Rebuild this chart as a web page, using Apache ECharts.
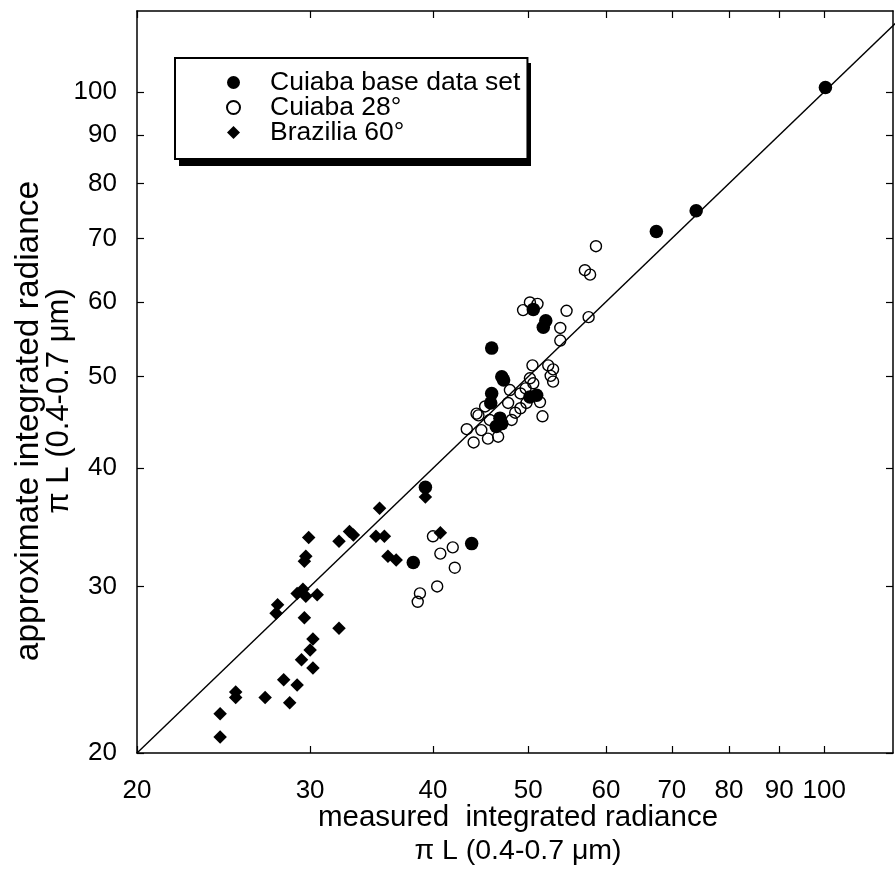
<!DOCTYPE html>
<html>
<head>
<meta charset="utf-8">
<script src="https://cdn.jsdelivr.net/npm/echarts@6/dist/echarts.min.js"></script>
<style>
  html, body { margin: 0; padding: 0; background: #fff; }
  #chart { width: 895px; height: 876px; }
</style>
</head>
<body>
<div id="chart"></div>
<script>
// Radiance comparison: measured (x) vs approximate (y), log-log axes.
const tickValues = [20, 30, 40, 50, 60, 70, 80, 90, 100];
const xRange = [20, 117.5];
const yRange = [20, 121.8];

// Cuiaba base data set [measured, approximate]
const cuiabaBase = [
  [100.3, 101.1], [74.1, 74.9], [67.5, 71.2], [52.1, 57.3], [51.8, 56.4],
  [50.6, 58.9], [45.9, 53.6], [47.0, 50.0], [47.2, 49.6], [45.9, 48.0],
  [45.8, 46.9], [46.8, 45.2], [47.0, 44.6], [46.4, 44.3], [50.2, 47.6],
  [51.0, 47.8], [43.8, 33.3], [38.2, 31.8], [39.3, 38.2]
];

// Cuiaba 28°
const cuiaba28 = [
  [58.6, 68.7], [57.1, 64.8], [57.8, 64.1], [54.7, 58.7], [57.6, 57.8],
  [53.9, 56.3], [53.9, 54.6], [49.4, 58.8], [50.2, 59.9], [51.1, 59.7],
  [50.5, 51.4], [52.4, 51.4], [53.0, 50.9], [52.7, 50.1], [53.0, 49.4],
  [50.2, 49.8], [50.6, 49.2], [49.7, 48.6], [49.1, 48.0], [47.9, 48.4],
  [47.7, 46.9], [48.5, 45.8], [49.8, 46.9], [51.4, 47.0], [51.7, 45.4],
  [43.3, 44.0], [44.0, 42.6], [44.5, 45.5], [44.8, 43.9], [45.5, 43.0],
  [46.6, 43.2], [45.2, 46.5], [44.3, 45.7], [45.7, 45.0], [48.1, 45.0],
  [49.1, 46.3], [40.0, 33.9], [40.7, 32.5], [41.9, 33.0], [42.1, 31.4],
  [38.8, 29.5], [38.6, 28.9], [40.4, 30.0]
];

// Brazilia 60°
const brazilia60 = [
  [24.3, 22.0], [24.3, 20.8], [25.2, 23.2], [25.2, 22.9], [27.0, 22.9],
  [28.2, 23.9], [28.6, 22.6], [29.1, 23.6], [29.4, 25.1], [30.2, 24.6],
  [30.0, 25.7], [30.2, 26.4], [29.6, 27.8], [27.8, 28.7], [27.7, 28.1],
  [29.1, 29.5], [29.5, 29.8], [29.7, 29.3], [30.5, 29.4], [32.1, 27.1],
  [29.9, 33.8], [29.7, 32.3], [29.6, 31.9], [32.1, 33.5], [32.9, 34.3],
  [33.2, 34.0], [35.3, 36.3], [35.0, 33.9], [35.7, 33.9], [36.0, 32.3],
  [36.7, 32.0], [39.3, 37.3], [40.7, 34.2]
];

// 1:1 reference line
const oneToOne = [[20, 20], [121.8, 121.8]];

const seriesNames = ['Cuiaba base data set', 'Cuiaba 28°', 'Brazilia 60°'];
const FONT = '"Liberation Sans", Arial, Helvetica, sans-serif';

function logAxis(pos, range, showLabels, labelMargin) {
  return {
    type: 'log',
    logBase: 10,
    position: pos,
    min: range[0],
    max: range[1],
    axisLine: { show: true, lineStyle: { color: '#000', width: 1.5 } },
    axisTick: { show: true, inside: true, length: 7, customValues: tickValues,
                lineStyle: { color: '#000', width: 1.2 } },
    axisLabel: { show: showLabels, customValues: tickValues, color: '#000',
                 fontFamily: FONT, fontSize: 26, margin: labelMargin || 8 },
    splitLine: { show: false },
    minorTick: { show: false }
  };
}

// legend frame with a hard drop shadow on the lower right
const LEG = { left: 175, top: 58, width: 352, height: 103, shadow: [4, 5] };

const chart = echarts.init(document.getElementById('chart'));
chart.setOption({
  animation: false,
  backgroundColor: '#fff',
  grid: { left: 137, top: 11, right: 2, bottom: 123 },
  xAxis: [
    logAxis('bottom', xRange, true, 25),
    logAxis('top', xRange, false)
  ],
  yAxis: [
    logAxis('left', yRange, true, 20),
    logAxis('right', yRange, false)
  ],
  legend: {
    data: seriesNames,
    orient: 'vertical',
    left: LEG.left,
    top: LEG.top,
    padding: [11, 7, 13, 51],
    itemGap: -2,
    itemWidth: 13,
    itemHeight: 13,
    backgroundColor: '#fff',
    borderColor: '#000',
    borderWidth: 2,
    borderRadius: 0,
    selectedMode: false,
    z: 10,
    textStyle: { color: '#000', fontFamily: FONT, fontSize: 26.5, lineHeight: 25,
                 padding: [0, 0, 0, 25] }
  },
  graphic: [
    { type: 'rect', z: 5, silent: true,
      shape: { x: LEG.left + LEG.shadow[0], y: LEG.top + LEG.shadow[1],
               width: LEG.width, height: LEG.height },
      style: { fill: '#000' } },
    { type: 'text', x: 29, y: 421, rotation: Math.PI / 2,
      style: { text: 'approximate integrated radiance', font: '33.5px ' + FONT, fill: '#000',
               textAlign: 'center', textVerticalAlign: 'middle', align: 'center', verticalAlign: 'middle' } },
    { type: 'text', x: 59, y: 401, rotation: Math.PI / 2,
      style: { text: 'π L (0.4-0.7 μm)', font: '31px ' + FONT, fill: '#000',
               textAlign: 'center', textVerticalAlign: 'middle', align: 'center', verticalAlign: 'middle' } },
    { type: 'text', x: 518, y: 818,
      style: { text: 'measured  integrated radiance', font: '29.5px ' + FONT, fill: '#000',
               textAlign: 'center', textVerticalAlign: 'middle', align: 'center', verticalAlign: 'middle' } },
    { type: 'text', x: 518, y: 851,
      style: { text: 'π L (0.4-0.7 μm)', font: '28.5px ' + FONT, fill: '#000',
               textAlign: 'center', textVerticalAlign: 'middle', align: 'center', verticalAlign: 'middle' } }
  ],
  series: [
    {
      type: 'line', name: '1:1', data: oneToOne, symbol: 'none', silent: true, clip: true,
      lineStyle: { color: '#000', width: 1.4 }, z: 1
    },
    {
      type: 'scatter', name: seriesNames[1], data: cuiaba28, symbol: 'circle', symbolSize: 11,
      itemStyle: { color: 'rgba(255,255,255,0)', borderColor: '#000', borderWidth: 1.4, opacity: 1 }, z: 2
    },
    {
      type: 'scatter', name: seriesNames[0], data: cuiabaBase, symbol: 'circle', symbolSize: 13.5,
      itemStyle: { color: '#000', opacity: 1 }, z: 3
    },
    {
      type: 'scatter', name: seriesNames[2], data: brazilia60, symbol: 'diamond', symbolSize: 13.5,
      itemStyle: { color: '#000', opacity: 1 }, z: 4
    }
  ]
});
</script>
</body>
</html>
